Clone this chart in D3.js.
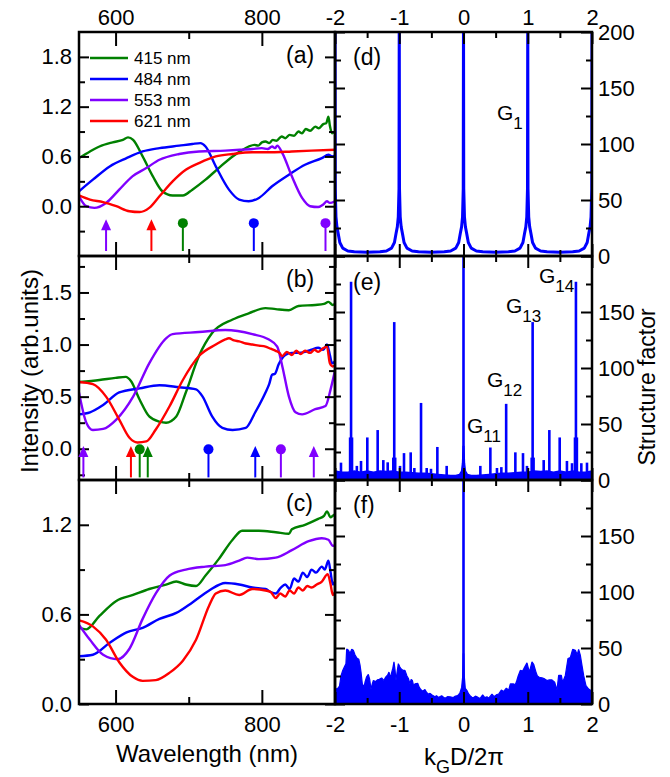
<!DOCTYPE html>
<html>
<head>
<meta charset="utf-8">
<script src="https://cdn.jsdelivr.net/npm/d3@7"></script>
<style>
body { margin: 0; background: #fff; }
text { font-family: "Liberation Sans", Arial, sans-serif; fill: #000; }
</style>
</head>
<body>
<div id="chart"></div>
<script>
// ---- data ----
const series = ['415', '484', '553', '621'];
const colors = { '415': '#008000', '484': '#0000ff', '553': '#8000ff', '621': '#ff0000' };

// panel (a): [wavelength nm, intensity]
const a415 = [[550,0.58],[565,0.66],[578,0.72],[596,0.77],[610,0.80],[617,0.83],[624,0.80],[637,0.60],[651,0.36],[664,0.18],[678,0.13],[692,0.13],[705,0.20],[723,0.32],[741,0.46],[760,0.60],[772,0.67],[782,0.72],[790,0.74],[795,0.73],[800,0.77],[805,0.78],[810,0.76],[815,0.80],[820,0.79],[827,0.84],[832,0.82],[838,0.86],[844,0.85],[850,0.90],[855,0.88],[860,0.93],[866,0.91],[873,0.96],[878,0.94],[884,0.99],[888,1.00],[891,1.08],[893,0.97],[896,0.88],[900,0.90]];
const a484 = [[550,0.18],[569,0.32],[592,0.48],[615,0.58],[637,0.66],[660,0.70],[687,0.73],[705,0.75],[716,0.76],[723,0.72],[737,0.48],[755,0.20],[769,0.08],[782,0.06],[796,0.10],[814,0.24],[837,0.38],[859,0.50],[882,0.58],[891,0.62],[896,0.60],[900,0.61]];
const a553 = [[550,0.12],[560,0.0],[571,-0.02],[587,0.04],[605,0.20],[623,0.36],[642,0.46],[660,0.56],[687,0.63],[714,0.66],[750,0.67],[770,0.68],[787,0.69],[800,0.70],[808,0.69],[814,0.72],[818,0.70],[821,0.73],[828,0.64],[841,0.36],[855,0.10],[866,0.0],[877,-0.01],[884,0.02],[889,0.06],[893,0.04],[900,0.06]];
const a621 = [[550,0.13],[565,0.08],[583,0.05],[601,0.0],[619,-0.06],[633,-0.07],[646,-0.02],[660,0.12],[678,0.30],[696,0.44],[714,0.52],[737,0.60],[760,0.63],[787,0.65],[814,0.65],[841,0.66],[868,0.67],[900,0.68]];

// panel (b)
const b415 = [[551,0.64],[578,0.66],[600,0.68],[614,0.69],[621,0.65],[633,0.47],[646,0.31],[660,0.26],[669,0.25],[683,0.31],[696,0.54],[714,0.89],[732,1.11],[760,1.24],[782,1.30],[805,1.35],[819,1.34],[837,1.33],[850,1.37],[873,1.38],[885,1.39],[891,1.41],[897,1.38],[900,1.39]];
const b484 = [[550,0.33],[565,0.35],[583,0.42],[605,0.54],[633,0.58],[660,0.61],[687,0.59],[710,0.57],[719,0.50],[732,0.31],[746,0.20],[760,0.18],[778,0.20],[791,0.35],[805,0.54],[810,0.62],[814,0.71],[818,0.72],[823,0.81],[832,0.90],[841,0.92],[850,0.92],[859,0.93],[868,0.95],[877,0.97],[884,0.95],[889,1.0],[893,0.90],[896,0.82],[900,0.84]];
const b553 = [[550,0.54],[560,0.25],[569,0.18],[583,0.19],[601,0.28],[624,0.50],[646,0.82],[669,1.06],[678,1.10],[714,1.12],[750,1.14],[787,1.10],[809,1.05],[821,0.98],[828,0.79],[837,0.50],[846,0.35],[855,0.33],[873,0.38],[887,0.41],[894,0.57],[900,0.75]];
const b621 = [[550,0.64],[569,0.62],[587,0.50],[605,0.28],[619,0.105],[630,0.06],[642,0.07],[655,0.185],[674,0.41],[692,0.66],[714,0.89],[737,1.00],[750,1.05],[755,1.06],[762,1.04],[769,1.03],[778,1.01],[787,1.00],[796,0.99],[805,0.98],[812,0.96],[819,0.94],[824,0.92],[828,0.89],[834,0.93],[841,0.90],[847,0.94],[853,0.91],[859,0.94],[866,0.92],[872,0.95],[877,0.93],[883,0.96],[889,0.98],[893,0.82],[897,0.79],[900,0.80]];

// panel (c)
const c415 = [[550,0.51],[560,0.50],[578,0.59],[601,0.69],[624,0.73],[646,0.77],[669,0.80],[683,0.82],[696,0.80],[710,0.79],[723,0.86],[741,0.97],[760,1.10],[773,1.16],[796,1.16],[819,1.15],[837,1.14],[841,1.17],[859,1.20],[877,1.24],[885,1.26],[889,1.29],[894,1.25],[897,1.26],[900,1.27]];
const c484 = [[550,0.32],[569,0.33],[592,0.41],[615,0.48],[637,0.51],[660,0.57],[683,0.61],[705,0.68],[728,0.76],[750,0.81],[769,0.80],[787,0.78],[805,0.77],[812,0.75],[819,0.74],[826,0.78],[832,0.80],[838,0.77],[844,0.84],[850,0.82],[856,0.88],[862,0.85],[868,0.90],[874,0.88],[882,0.92],[886,0.90],[891,0.96],[894,0.88],[897,0.80],[900,0.82]];
const c553 = [[550,0.53],[565,0.43],[583,0.33],[603,0.30],[619,0.37],[637,0.57],[655,0.74],[674,0.86],[696,0.90],[723,0.92],[750,0.93],[769,0.96],[780,0.98],[796,0.97],[819,0.98],[841,1.03],[864,1.09],[882,1.11],[891,1.10],[897,1.06],[900,1.06]];
const c621 = [[550,0.56],[569,0.52],[587,0.43],[605,0.28],[624,0.18],[637,0.155],[655,0.16],[674,0.21],[692,0.29],[710,0.43],[728,0.66],[737,0.74],[750,0.76],[769,0.73],[787,0.77],[805,0.76],[812,0.75],[819,0.71],[825,0.74],[832,0.72],[838,0.76],[844,0.74],[850,0.78],[856,0.76],[862,0.79],[868,0.78],[875,0.80],[882,0.82],[890,0.87],[894,0.80],[897,0.73],[900,0.75]];

// resonance markers: [wavelength, series, type]
const aMarkers = [[587,'553','arrow'],[649,'621','arrow'],[692,'415','dot'],[789,'484','dot'],[887,'553','dot']];
const bMarkers = [[556,'553','arrow'],[621,'621','arrow'],[633,'415','dot'],[644,'415','arrow'],[727,'484','dot'],[791,'484','arrow'],[826,'553','dot'],[871,'553','arrow']];

// panel (d): periodic structure factor
const dK = [-2,-1.996,-1.985,-1.97,-1.95,-1.925,-1.88,-1.8,-1.7,-1.5,-1.3,-1.2,-1.12,-1.075,-1.05,-1.03,-1.015,-1.004,-1,
  -0.996,-0.985,-0.97,-0.95,-0.925,-0.88,-0.8,-0.7,-0.5,-0.3,-0.2,-0.12,-0.075,-0.05,-0.03,-0.015,-0.004,0,
  0.004,0.015,0.03,0.05,0.075,0.12,0.2,0.3,0.5,0.7,0.8,0.88,0.925,0.95,0.97,0.985,0.996,1,
  1.004,1.015,1.03,1.05,1.075,1.12,1.2,1.3,1.5,1.7,1.8,1.88,1.925,1.95,1.97,1.985,1.996,2];
const dS = [230,60,35,26,20,12,7,4.5,3.8,3.3,3.8,4.5,7,12,20,26,35,60,230,
  60,35,26,20,12,7,4.5,3.8,3.3,3.8,4.5,7,12,20,26,35,60,230,
  60,35,26,20,12,7,4.5,3.8,3.3,3.8,4.5,7,12,20,26,35,60,230,
  60,35,26,20,12,7,4.5,3.8,3.3,3.8,4.5,7,12,20,26,35,60,230];

// panel (e): quasiperiodic structure factor
const eFloorK = [-2,-1.9,-1.8,-1.7,-1.6,-1.5,-1.4,-1.3,-1.2,-1.1,-1.0,-0.9,-0.8,-0.7,-0.6,-0.5,-0.4,-0.3,-0.2,-0.12,-0.06,-0.03,-0.015,-0.005,
  0.005,0.015,0.03,0.06,0.12,0.2,0.3,0.4,0.5,0.6,0.7,0.8,0.9,1.0,1.1,1.2,1.3,1.4,1.5,1.6,1.7,1.8,1.9,2];
const eFloorS = [8,7,7,8,7,8,7,8,7.5,8,7,7,6.5,6,6,5.5,5,4.5,4,4,5,8,15,30,
  30,15,8,5,4,4,4.5,5,5.5,6,6,6.5,7,7,8,7.5,8,7,8,7,8,7,7,8];
const eSpikeK = [-1.907,-1.75,-1.66,-1.595,-1.497,-1.336,-1.248,-1.18,-1.078,-0.988,-0.926,-0.822,-0.765,-0.661,-0.573,-0.506,-0.407,-0.262,
  0,0.262,0.418,0.521,0.589,0.664,0.807,0.926,0.988,1.076,1.248,1.336,1.497,1.61,1.689,1.75,1.834,1.922];
const eSpikeS = [15.5,177,12.6,17,38,44.6,17.8,15.8,141,12.6,24,24.7,10.7,68.8,10.7,10,29.5,12.6,
  230,12.6,29,10.7,11.5,68,24.7,24,12.6,141,17.8,44.6,38,17,15,177,15,15.5];
const eShoulderK = [-1.75,-1.078,1.076,1.75];
const eShoulderS = [38,20,20,38];

// panel (f): disordered structure factor, upper edge of the noise band [k, S]
const fEnv = [[-2,13],[-1.958,14],[-1.93,16],[-1.907,25],[-1.88,30],[-1.855,33],[-1.83,36],[-1.818,49],[-1.79,48],[-1.767,45],[-1.74,49],[-1.715,48],
  [-1.689,44],[-1.66,41],[-1.63,40],[-1.611,35],[-1.595,28.5],[-1.575,18],[-1.55,15],[-1.533,19.4],[-1.51,24],[-1.481,26.4],[-1.46,22],[-1.44,13],
  [-1.42,18],[-1.403,21],[-1.37,20],[-1.341,21.5],[-1.31,22],[-1.274,23.3],[-1.24,21],[-1.211,24],[-1.18,26],[-1.16,28.5],[-1.14,24],[-1.128,26],
  [-1.1,32],[-1.082,37.6],[-1.065,30],[-1.051,21],[-1.03,30],[-1.014,36],[-0.99,33],[-0.973,31.5],[-0.94,30],[-0.911,30],[-0.88,25],[-0.859,23],
  [-0.833,18],[-0.815,22],[-0.796,21],[-0.775,16],[-0.755,18],[-0.713,18.5],[-0.69,15],[-0.677,14],[-0.65,12],[-0.625,11.8],[-0.6,13],[-0.573,10.3],
  [-0.547,8.8],[-0.52,9.5],[-0.495,8.2],[-0.444,6.4],[-0.42,7.5],[-0.392,5.8],[-0.34,7.3],[-0.31,6],[-0.288,5.2],[-0.25,6.5],[-0.21,6.4],[-0.158,5.8],
  [-0.13,7],[-0.106,7.3],[-0.08,8],[-0.054,10.3],[-0.029,14.8],[-0.012,25],[-0.004,45],
  [0.004,45],[0.012,25],[0.028,14],[0.054,12],[0.08,9],[0.106,7.3],[0.13,6],[0.158,5.8],[0.185,7],[0.21,6.4],[0.235,5.5],[0.262,5.2],[0.298,8.2],
  [0.32,6.5],[0.34,5.8],[0.365,6.5],[0.392,5.2],[0.443,8.8],[0.47,7],[0.495,7.3],[0.52,8.5],[0.547,8.8],[0.589,12.4],[0.625,11.2],[0.667,14.2],
  [0.703,12.4],[0.729,17.9],[0.781,17.9],[0.807,17.3],[0.83,21],[0.848,24.5],[0.884,30],[0.921,29.4],[0.952,33],[0.988,36.7],[1.025,28.5],[1.066,37.6],
  [1.092,35.5],[1.128,28.5],[1.15,25],[1.18,23.9],[1.222,23.3],[1.263,22.4],[1.3,20.9],[1.336,21.5],[1.377,21.5],[1.419,19.4],[1.455,12.4],[1.481,25.5],
  [1.523,25.5],[1.543,19.4],[1.585,25.5],[1.626,40.6],[1.663,41.5],[1.699,48.8],[1.741,48],[1.77,44],[1.792,48.8],[1.818,43.6],[1.844,34.5],[1.87,25.5],
  [1.906,16.4],[1.948,13.3],[1.99,11.8],[2,12]];
const fSpikeK = [0];
const fSpikeS = [230];

// tick values
const wlMajor = [600, 800], wlMinor = [700];
const wlLabels = [600, 800];
const kMajor = [-2, -1, 0, 1, 2], kMinor = [-1.5, -0.5, 0.5, 1.5];
const aMajor = [0, 0.6, 1.2, 1.8], aMinor = [-0.3, 0.3, 0.9, 1.5];
const bMajor = [0, 0.5, 1.0, 1.5], bMinor = [-0.25, 0.25, 0.75, 1.25, 1.75];
const cMajor = [0, 0.6, 1.2], cMinor = [0.3, 0.9];
const sMajor = [0, 50, 100, 150, 200], sMinor = [25, 75, 125, 175];

// ---- layout ----
const W = 670, H = 777;
const svg = d3.select('#chart').append('svg').attr('width', W).attr('height', H);

const xL = d3.scaleLinear().domain([550, 900]).range([79, 335]);
const xR = d3.scaleLinear().domain([-2, 2]).range([335, 592]);
const yA = d3.scaleLinear().domain([-0.6, 2.1]).range([256, 32]);
const yB = d3.scaleLinear().domain([-0.3, 1.85]).range([480, 256]);
const yC = d3.scaleLinear().domain([0, 1.5]).range([704, 480]);
const yD = d3.scaleLinear().domain([0, 200]).range([256, 32]);
const yE = d3.scaleLinear().domain([0, 200]).range([480, 256]);
const yF = d3.scaleLinear().domain([0, 200]).range([704, 480]);

const defs = svg.append('defs');
function clipFor(id, x, y) {
  defs.append('clipPath').attr('id', id).append('rect')
    .attr('x', x.range()[0]).attr('y', y.range()[1])
    .attr('width', x.range()[1] - x.range()[0]).attr('height', y.range()[0] - y.range()[1]);
  return svg.append('g').attr('clip-path', `url(#${id})`);
}

function addAxis(gen, tr, values, len, fmt, pad) {
  const g = svg.append('g').attr('transform', tr)
    .call(gen.tickValues(values).tickSizeInner(-len).tickSizeOuter(0).tickPadding(pad).tickFormat(fmt));
  g.select('.domain').remove();
  g.selectAll('line').attr('stroke', '#000').attr('stroke-width', 2);
  g.selectAll('text').attr('font-size', 22).attr('fill', '#000')
    .attr('font-family', '"Liberation Sans", Arial, sans-serif');
  return g;
}
const blank = () => '';
const f1 = d3.format('.1f');

function frame(x, y) {
  svg.append('rect')
    .attr('x', x.range()[0]).attr('y', y.range()[1])
    .attr('width', x.range()[1] - x.range()[0]).attr('height', y.range()[0] - y.range()[1])
    .attr('fill', 'none').attr('stroke', '#000').attr('stroke-width', 2.5);
}

// ---- left column: spectra ----
const leftPanels = [
  { y: yA, data: [a415, a484, a553, a621], major: aMajor, minor: aMinor, label: '(a)' },
  { y: yB, data: [b415, b484, b553, b621], major: bMajor, minor: bMinor, label: '(b)' },
  { y: yC, data: [c415, c484, c553, c621], major: cMajor, minor: cMinor, label: '(c)' }
];

const line = d3.line().x(d => xL(d[0])).curve(d3.curveMonotoneX);

leftPanels.forEach((p, i) => {
  const g = clipFor('clipL' + i, xL, p.y);
  p.data.forEach((arr, j) => {
    g.append('path')
      .attr('d', line.y(d => p.y(d[1]))(arr))
      .attr('fill', 'none')
      .attr('stroke', colors[series[j]])
      .attr('stroke-width', 2.4)
      .attr('stroke-linejoin', 'round');
  });

  const [yb, yt] = p.y.range();
  addAxis(d3.axisLeft(p.y), `translate(79,0)`, p.major, 10, f1, 7);
  addAxis(d3.axisLeft(p.y), `translate(79,0)`, p.minor, 6, blank, 7);
  addAxis(d3.axisRight(p.y), `translate(335,0)`, p.major, 10, blank, 6);
  addAxis(d3.axisRight(p.y), `translate(335,0)`, p.minor, 6, blank, 6);
  addAxis(d3.axisTop(xL), `translate(0,${yt})`, wlMajor, 14, i === 0 ? (d => wlLabels.includes(d) ? d : '') : blank, 7);
  addAxis(d3.axisTop(xL), `translate(0,${yt})`, wlMinor, 7, blank, 7);
  addAxis(d3.axisBottom(xL), `translate(0,${yb})`, wlMajor, 14, i === 2 ? (d => wlLabels.includes(d) ? d : '') : blank, 12);
  addAxis(d3.axisBottom(xL), `translate(0,${yb})`, wlMinor, 7, blank, 12);
  frame(xL, p.y);

  svg.append('text').attr('x', 286).attr('y', yt + 31).attr('font-size', 23).text(p.label);
});

// resonance markers
function drawMarkers(list, y, tipVal, dotVal, botVal) {
  list.forEach(m => {
    const cx = xL(m[0]);
    const col = colors[m[1]];
    const top = m[2] === 'arrow' ? y(tipVal) + 10 : y(dotVal);
    svg.append('line').attr('x1', cx).attr('x2', cx).attr('y1', top).attr('y2', y(botVal))
      .attr('stroke', col).attr('stroke-width', 2);
    if (m[2] === 'arrow') {
      const ty = y(tipVal);
      svg.append('path').attr('d', `M${cx},${ty} L${cx + 5},${ty + 11} L${cx - 5},${ty + 11} Z`).attr('fill', col);
    } else {
      svg.append('circle').attr('cx', cx).attr('cy', y(dotVal)).attr('r', 5).attr('fill', col);
    }
  });
}
drawMarkers(aMarkers, yA, -0.156, -0.204, -0.54);
drawMarkers(bMarkers, yB, 0.026, -0.006, -0.275);

// legend in (a)
series.forEach((s, i) => {
  const ly = 58 + i * 21;
  svg.append('line').attr('x1', 90).attr('x2', 128).attr('y1', ly).attr('y2', ly)
    .attr('stroke', colors[s]).attr('stroke-width', 2.4);
  svg.append('text').attr('x', 134).attr('y', ly + 6).attr('font-size', 17).text(s + ' nm');
});

// ---- right column: structure factors ----
const blue = '#0000ff';
const rightPanels = [
  { y: yD, label: '(d)', labelY: 65, topLabels: true, bottomLabels: false, yLabels: [0, 50, 100, 150, 200] },
  { y: yE, label: '(e)', labelY: 290, topLabels: false, bottomLabels: false, yLabels: [0, 50, 100, 150] },
  { y: yF, label: '(f)', labelY: 513, topLabels: false, bottomLabels: true, yLabels: [0, 50, 100, 150] }
];

// (d)
{
  const g = clipFor('clipD', xR, yD);
  g.append('path')
    .attr('d', d3.line().x(d => xR(d[0])).y(d => yD(d[1]))(dK.map((k, i) => [k, dS[i]])))
    .attr('fill', 'none').attr('stroke', blue).attr('stroke-width', 3).attr('stroke-linejoin', 'round');
}
// (e)
{
  const g = clipFor('clipE', xR, yE);
  g.append('path')
    .attr('d', d3.area().x(d => xR(d[0])).y0(yE(0)).y1(d => yE(d[1]))(eFloorK.map((k, i) => [k, eFloorS[i]])))
    .attr('fill', blue).attr('stroke', blue).attr('stroke-width', 1.5);
  g.selectAll('line.sh').data(eShoulderK).enter().append('line')
    .attr('x1', d => xR(d)).attr('x2', d => xR(d))
    .attr('y1', yE(0)).attr('y2', (d, i) => yE(eShoulderS[i]))
    .attr('stroke', blue).attr('stroke-width', 4.5);
  g.selectAll('line.sp').data(eSpikeK).enter().append('line')
    .attr('x1', d => xR(d)).attr('x2', d => xR(d))
    .attr('y1', yE(0)).attr('y2', (d, i) => yE(eSpikeS[i]))
    .attr('stroke', blue).attr('stroke-width', 2.6);
}
// (f)
{
  const g = clipFor('clipF', xR, yF);
  g.append('path')
    .attr('d', d3.area().x(d => xR(d[0])).y0(yF(0)).y1(d => yF(d[1]))(fEnv))
    .attr('fill', blue).attr('stroke', blue).attr('stroke-width', 1.2).attr('stroke-linejoin', 'bevel');
  g.selectAll('line.sp').data(fSpikeK).enter().append('line')
    .attr('x1', d => xR(d)).attr('x2', d => xR(d))
    .attr('y1', yF(0)).attr('y2', (d, i) => yF(fSpikeS[i]))
    .attr('stroke', blue).attr('stroke-width', 2.6);
}

rightPanels.forEach(p => {
  const [yb, yt] = p.y.range();
  addAxis(d3.axisRight(p.y), `translate(592,0)`, sMajor, 11, d => p.yLabels.includes(d) ? d : '', 6);
  addAxis(d3.axisRight(p.y), `translate(592,0)`, sMinor, 6, blank, 6);
  addAxis(d3.axisLeft(p.y), `translate(335,0)`, sMajor, 10, blank, 6);
  addAxis(d3.axisLeft(p.y), `translate(335,0)`, sMinor, 6, blank, 6);
  addAxis(d3.axisTop(xR), `translate(0,${yt})`, kMajor, 12, p.topLabels ? (d => d) : blank, 7);
  addAxis(d3.axisTop(xR), `translate(0,${yt})`, kMinor, 6, blank, 7);
  addAxis(d3.axisBottom(xR), `translate(0,${yb})`, kMajor, 12, p.bottomLabels ? (d => d) : blank, 12);
  addAxis(d3.axisBottom(xR), `translate(0,${yb})`, kMinor, 6, blank, 12);
  frame(xR, p.y);
  svg.append('text').attr('x', 353).attr('y', p.labelY).attr('font-size', 23).text(p.label);
});

// peak labels
function gLabel(x, y, sub) {
  const t = svg.append('text').attr('x', x).attr('y', y).attr('font-size', 21);
  t.append('tspan').text('G');
  t.append('tspan').attr('font-size', 17).attr('dy', 9).text(sub);
}
gLabel(497, 120, '1');
gLabel(539, 283, '14');
gLabel(506, 313, '13');
gLabel(487, 387, '12');
gLabel(467, 433, '11');

// ---- axis titles ----
svg.append('text').attr('transform', 'translate(38,371) rotate(-90)')
  .attr('text-anchor', 'middle').attr('font-size', 24).text('Intensity (arb.units)');
svg.append('text').attr('transform', 'translate(655,387) rotate(-90)')
  .attr('text-anchor', 'middle').attr('font-size', 23).text('Structure factor');
svg.append('text').attr('x', 207).attr('y', 762)
  .attr('text-anchor', 'middle').attr('font-size', 24).text('Wavelength (nm)');
const kt = svg.append('text').attr('x', 464).attr('y', 765).attr('text-anchor', 'middle').attr('font-size', 24);
kt.append('tspan').text('k');
kt.append('tspan').attr('font-size', 18).attr('dy', 8).text('G');
kt.append('tspan').attr('dy', -8).text('D/2π');
</script>
</body>
</html>
